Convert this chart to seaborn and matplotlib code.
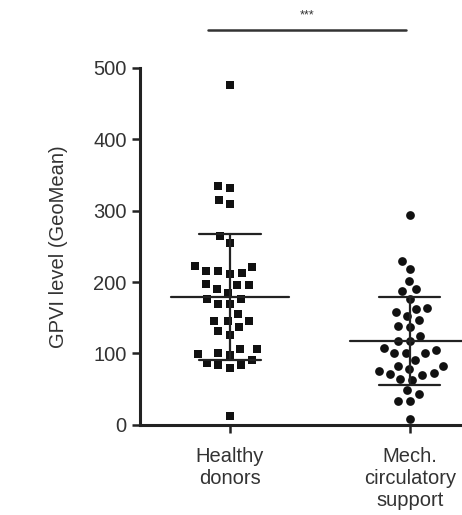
import numpy as np
import pandas as pd
import matplotlib
matplotlib.use("Agg")
import matplotlib.pyplot as plt
import seaborn as sns

# values
groups = ["Healthy\ndonors", "Mech.\ncirculatory\nsupport"]
healthy = [476, 332, 335, 315, 309, 265, 255,
           221, 216, 213, 216, 211, 223,
           198, 190, 196, 196, 185,
           169, 176, 176, 169, 155,
           146, 145, 146, 137, 131, 126,
           106, 101, 98, 99, 106,
           87, 84, 79, 84, 91, 13]
mcs = [294, 230, 218, 202, 190, 188,
       177, 162, 164, 158, 152, 147, 137, 139, 125,
       118, 118, 107, 100, 100, 100, 105, 91,
       83, 78, 73, 83, 70, 63, 76, 71, 64,
       49, 34, 34, 43, 8]
yticks = [0, 100, 200, 300, 400, 500]

data = pd.DataFrame({
    "group": [groups[0]] * len(healthy) + [groups[1]] * len(mcs),
    "value": healthy + mcs,
})

sns.set_style("ticks")
plt.rcParams["font.family"] = ["Liberation Sans", "DejaVu Sans"]

fig = plt.figure(figsize=(4.62, 5.15), dpi=100)
ax = fig.add_axes([0.303, 0.175, 0.697, 0.693])
ax.set_xlim(-0.5, 1.29)
ax.set_ylim(0, 500)

# swarm laid out with a wider spacing, then markers shrunk
sns.swarmplot(data=data[data.group == groups[0]], x="group", y="value",
              order=groups, marker="s", size=8.3, color="#111111", ax=ax)
sns.swarmplot(data=data[data.group == groups[1]], x="group", y="value",
              order=groups, marker="o", size=8.0, color="#111111", ax=ax)
ax.set_xlim(-0.5, 1.29)
ax.set_ylim(0, 500)
fig.canvas.draw()
for coll in ax.collections:
    if "draw" in coll.__dict__:
        del coll.draw  # keep the swarm positions already computed
    coll.set_sizes([6.3 ** 2])

# mean +/- SD
for i, vals in enumerate([healthy, mcs]):
    m = np.mean(vals)
    sd = np.std(vals, ddof=1)
    ax.plot([i - 0.33, i + 0.33], [m, m], color="#222222", lw=1.6, zorder=5)
    ax.plot([i - 0.17, i + 0.17], [m + sd, m + sd], color="#222222", lw=1.6, zorder=5)
    ax.plot([i - 0.17, i + 0.17], [m - sd, m - sd], color="#222222", lw=1.6, zorder=5)
    ax.plot([i, i], [m - sd, m + sd], color="#222222", lw=1.6, zorder=5)

# significance bar
ax.plot([-0.12, 0.98], [553, 553], color="#333333", lw=1.8, clip_on=False)
ax.text(0.43, 565, "***", ha="center", va="bottom", fontsize=9, color="#333333")

ax.set_xlim(-0.5, 1.29)
ax.set_ylim(0, 500)
ax.set_yticks(yticks)
ax.set_xlabel("")
ax.set_ylabel("GPVI level (GeoMean)", fontsize=14.5, color="#333333", labelpad=18)
ax.tick_params(axis="both", labelsize=14.5, labelcolor="#333333", color="#222222",
               width=1.8, length=6)
ax.tick_params(axis="x", pad=10)
for s in ["left", "bottom"]:
    ax.spines[s].set_linewidth(2.2)
    ax.spines[s].set_color("#222222")
sns.despine(ax=ax)

fig.savefig("out.png", dpi=100)
